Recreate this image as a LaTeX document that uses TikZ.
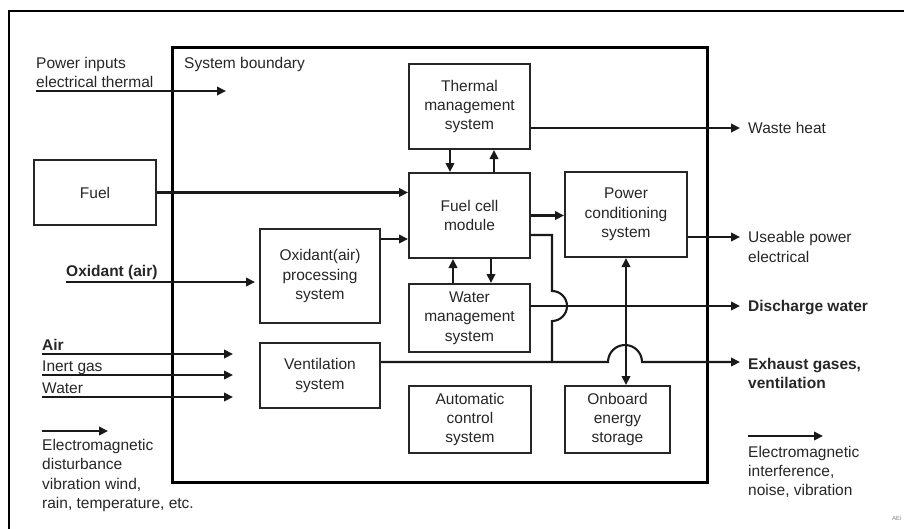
\documentclass[tikz,border=0pt]{standalone}
\usepackage{fontspec}
\setmainfont{Liberation Sans}
\usetikzlibrary{arrows.meta}
\newcommand\lab{\fontsize{15.5}{19.3}\selectfont}
\begin{document}
\begin{tikzpicture}[x=1pt,y=-1pt,
  every node/.style={text=black!85, font=\lab},
  blk/.style={draw=black!85, line width=2pt, inner sep=0pt, align=center},
  conn/.style={draw=black!90, line width=2.1pt},
  arr/.style={conn, -{Triangle[length=9pt,width=8.5pt]}},
  arrb/.style={conn, {Triangle[length=9pt,width=8.5pt]}-{Triangle[length=9pt,width=8.5pt]}},
  lbl/.style={anchor=base west, inner sep=0pt},
  blbl/.style={lbl, font=\lab\bfseries}]
\useasboundingbox (0,0) rectangle (904,528);
% outer frame (clipped at right and bottom)
\draw[line width=2pt] (9,530) -- (9,11) -- (906,11);
% system boundary
\draw[line width=3pt] (172,47) rectangle (707,482);
\node[lbl] (sb) at (184,68) {System boundary};
% blocks
\node[blk, minimum width=122pt, minimum height=65pt] (fuel) at (95,192.5) {Fuel};
\node[blk, minimum width=121pt, minimum height=85pt] (thermal) at (469.5,106.5) {Thermal\\management\\system};
\node[blk, minimum width=121pt, minimum height=85pt] (fcm) at (469.5,215.5) {Fuel cell\\module};
\node[blk, minimum width=122pt, minimum height=85pt] (pcs) at (626,214.5) {Power\\conditioning\\system};
\node[blk, minimum width=120pt, minimum height=94pt] (oxp) at (320,276) {Oxidant(air)\\processing\\system};
\node[blk, minimum width=121pt, minimum height=68pt] (wms) at (469.5,318) {Water\\management\\system};
\node[blk, minimum width=120pt, minimum height=65pt] (vent) at (320,375.5) {Ventilation\\system};
\node[blk, minimum width=122pt, minimum height=67pt] (acs) at (470,419.5) {Automatic\\control\\system};
\node[blk, minimum width=105pt, minimum height=67pt] (oes) at (617.5,419.5) {Onboard\\energy\\storage};
% helper coordinates
\coordinate (pin0) at (36,91);   \coordinate (pin1) at (226,91);
\coordinate (ox0) at (66,282);   \coordinate (ox1) at (255,282);
\coordinate (air0) at (42,354);  \coordinate (air1) at (233,354);
\coordinate (ig0) at (42,375);   \coordinate (ig1) at (233,375);
\coordinate (wa0) at (42,397);   \coordinate (wa1) at (233,397);
\coordinate (em0) at (42,431);   \coordinate (em1) at (108,431);
\coordinate (ei0) at (748,436);  \coordinate (ei1) at (823,436);
\coordinate (wh) at (740,128);
\coordinate (up) at (740,237);
\coordinate (dw) at (740,306);
\coordinate (ex) at (740,362);
\coordinate (j1) at (552,235);
\coordinate (j2) at (552,291);
\coordinate (j3) at (552,362);
\coordinate (b1) at (608,362);
% inputs
\draw[arr] (pin0) -- (pin1);
\node[lbl] (pi1) at (36,68) {Power inputs};
\node[lbl] (pi2) at (36,87) {electrical thermal};
\draw[arr] (ox0) -- (ox1);
\node[blbl] (oxl) at (66,276) {Oxidant (air)};
\draw[arr] (air0) -- (air1);
\node[blbl] (airl) at (42,350) {Air};
\draw[arr] (ig0) -- (ig1);
\node[lbl] (igl) at (42,371) {Inert gas};
\draw[arr] (wa0) -- (wa1);
\node[lbl] (wal) at (42,393) {Water};
\draw[arr] (em0) -- (em1);
\node[lbl] (e1) at (42,450) {Electromagnetic};
\node[lbl] (e2) at (42,469) {disturbance};
\node[lbl] (e3) at (42,489) {vibration wind,};
\node[lbl] (e4) at (42,508) {rain, temperature, etc.};
\draw[arr] (ei0) -- (ei1);
\node[lbl] (r1) at (748,457) {Electromagnetic};
\node[lbl] (r2) at (748,476) {interference,};
\node[lbl] (r3) at (748,495) {noise, vibration};
% internal connectors
\draw[arr] (fuel.east) -- (fuel.east -| fcm.west);
\draw[arr] ([yshift=37pt]oxp.east) -- ([yshift=37pt]oxp.east -| fcm.west);
\draw[arr] ([xshift=-19.5pt]thermal.south) -- ([xshift=-19.5pt]fcm.north);
\draw[arr] ([xshift=24.5pt]fcm.north) -- ([xshift=24.5pt]thermal.south);
\draw[arr] ([xshift=-16.5pt]wms.north) -- ([xshift=-16.5pt]fcm.south);
\draw[arr] ([xshift=21.5pt]fcm.south) -- ([xshift=21.5pt]wms.north);
\draw[arr] (fcm.east) -- (fcm.east -| pcs.west);
\draw[arrb] (pcs.south) -- (pcs.south |- oes.north);
% outputs
\draw[arr] ([yshift=-21.5pt]thermal.east) -- (wh);
\node[lbl] (whl) at (748,133) {Waste heat};
\draw[arr] ([yshift=-22.5pt]pcs.east) -- (up);
\node[lbl] (up1) at (748,242) {Useable power};
\node[lbl] (up2) at (748,262) {electrical};
\draw[arr] ([yshift=12pt]wms.east) -- (dw);
\node[blbl] (dwl) at (748,311) {Discharge water};
\draw[conn] ([yshift=-19.5pt]fcm.east) -- (j1) -- (j2)
  arc[start angle=90, end angle=-90, radius=15pt] -- (j3);
\draw[arr] ([yshift=13.5pt]vent.east) -- (b1)
  arc[start angle=180, end angle=0, radius=17pt] -- (ex);
\node[blbl] (ex1) at (748,369) {Exhaust gases,};
\node[blbl] (ex2) at (748,388) {ventilation};
\node[anchor=base west, inner sep=0pt, font=\fontsize{6}{7}\selectfont, text=black!50] (ae) at (892,520) {AEi};
\end{tikzpicture}
\end{document}
